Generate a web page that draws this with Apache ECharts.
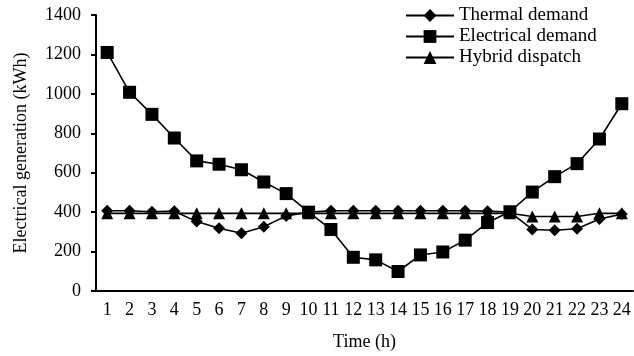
<!DOCTYPE html>
<html>
<head>
<meta charset="utf-8">
<script src="https://cdn.jsdelivr.net/npm/echarts@6/dist/echarts.min.js"></script>
<style>
  html, body { margin: 0; padding: 0; background: #fff; }
  #chart { width: 634px; height: 356px; }
</style>
</head>
<body>
<div id="chart"></div>
<script>
// hours on the x axis
var hours = ['1','2','3','4','5','6','7','8','9','10','11','12','13','14','15','16','17','18','19','20','21','22','23','24'];

// values (kWh)
var thermalDemand = [407, 407, 402, 405, 352, 318, 293, 326, 381, 400, 407, 407, 407, 407, 407, 407, 407, 405, 400, 312, 308, 316, 365, 390];
var electricalDemand = [1210, 1008, 896, 776, 660, 643, 615, 553, 494, 400, 312, 171, 158, 99, 183, 198, 258, 347, 402, 502, 580, 646, 771, 950];
var hybridDispatch = [394, 394, 394, 394, 394, 394, 394, 394, 394, 394, 394, 394, 394, 394, 394, 394, 394, 394, 394, 378, 378, 378, 394, 394];

var serif = '"Liberation Serif", "Times New Roman", serif';
var chart = echarts.init(document.getElementById('chart'));

function lineSeries(name, data, symbol, size, z) {
    return {
        name: name,
        type: 'line',
        data: data,
        symbol: symbol,
        symbolSize: size,
        showAllSymbol: true,
        z: z,
        itemStyle: { color: '#000' },
        lineStyle: { color: '#000', width: 1.6 },
        emphasis: { disabled: true }
    };
}

var option = {
    animation: false,
    backgroundColor: '#fff',
    textStyle: { fontFamily: serif, color: '#000' },
    grid: { left: 96, right: 1, top: 15, bottom: 60 },
    legend: {
        data: ['Thermal demand', 'Electrical demand', 'Hybrid dispatch'],
        orient: 'vertical',
        left: 400,
        top: 1,
        itemWidth: 48,
        itemHeight: 16,
        itemGap: 2,
        textStyle: { fontFamily: serif, fontSize: 19, color: '#000' }
    },
    xAxis: {
        type: 'category',
        data: hours,
        boundaryGap: true,
        name: 'Time (h)',
        nameLocation: 'middle',
        nameGap: 42,
        nameTextStyle: { fontFamily: serif, fontSize: 18, color: '#000' },
        axisLine: { lineStyle: { color: '#000', width: 2 } },
        axisTick: { alignWithLabel: true, length: 5, lineStyle: { color: '#000', width: 2 } },
        axisLabel: { interval: 0, margin: 10, fontFamily: serif, fontSize: 18, color: '#000' },
        splitLine: { show: false }
    },
    yAxis: {
        type: 'value',
        min: 0,
        max: 1400,
        interval: 200,
        name: 'Electrical generation (kWh)',
        nameLocation: 'middle',
        nameGap: 66,
        nameTextStyle: { fontFamily: serif, fontSize: 18, color: '#000' },
        axisLine: { show: true, lineStyle: { color: '#000', width: 2 } },
        axisTick: { show: true, length: 5, lineStyle: { color: '#000', width: 2 } },
        axisLabel: {
            margin: 15, fontFamily: serif, fontSize: 18, color: '#000',
            formatter: function (v) { return String(v); }
        },
        splitLine: { show: false }
    },
    series: [
        lineSeries('Thermal demand', thermalDemand, 'diamond', 12, 2),
        lineSeries('Hybrid dispatch', hybridDispatch, 'triangle', 12, 3),
        lineSeries('Electrical demand', electricalDemand, 'rect', 13, 4)
    ]
};

chart.setOption(option);
</script>
</body>
</html>
